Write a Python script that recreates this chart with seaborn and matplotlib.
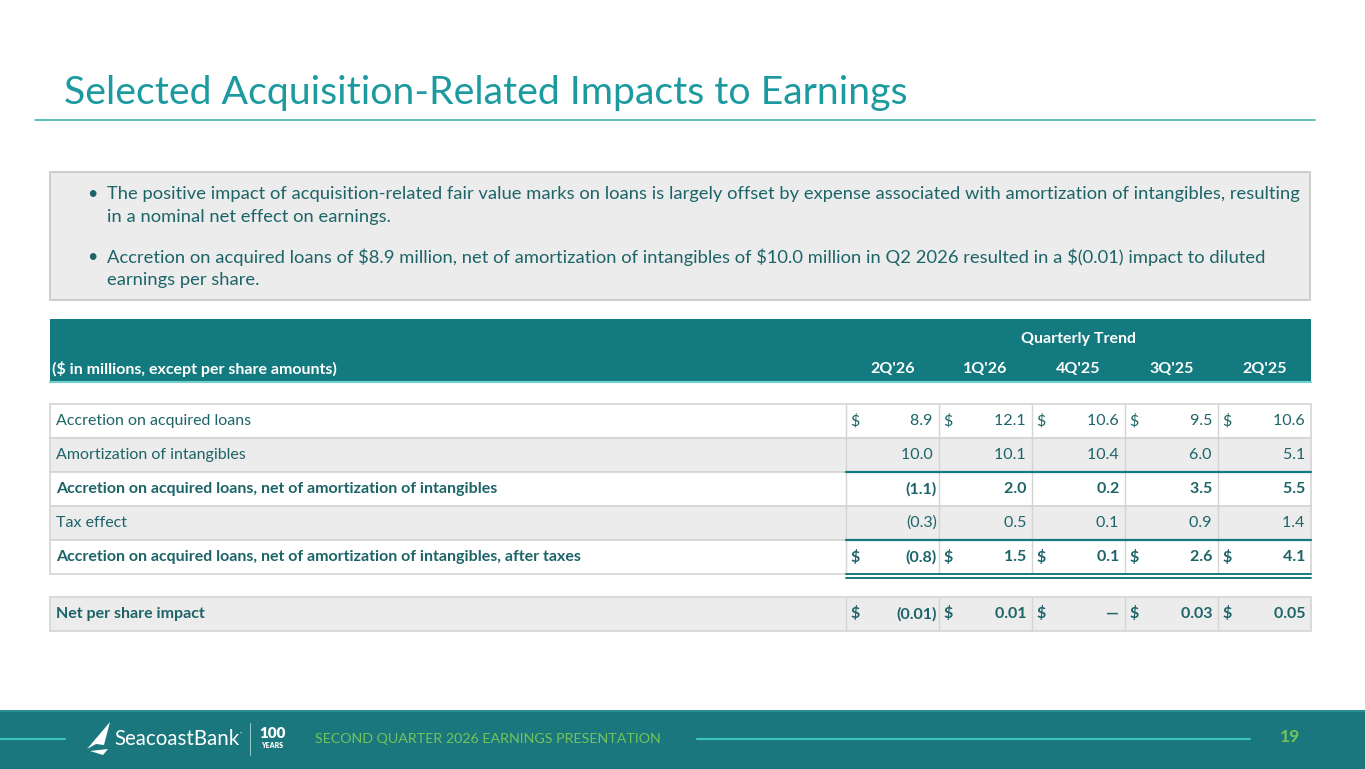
import numpy as np
import pandas as pd
import seaborn as sns
import matplotlib.pyplot as plt
from matplotlib.patches import Rectangle, Polygon

# Data
quarters = ["2Q'26", "1Q'26", "4Q'25", "3Q'25", "2Q'25"]
row_labels = [
    "Accretion on acquired loans",
    "Amortization of intangibles",
    "Accretion on acquired loans, net of amortization of intangibles",
    "Tax effect",
    "Accretion on acquired loans, net of amortization of intangibles, after taxes",
    "Net per share impact",
]
accretion = [8.9, 12.1, 10.6, 9.5, 10.6]
amortization = [10.0, 10.1, 10.4, 6.0, 5.1]
net_accretion = [-1.1, 2.0, 0.2, 3.5, 5.5]
tax_effect = [-0.3, 0.5, 0.1, 0.9, 1.4]
after_tax = [-0.8, 1.5, 0.1, 2.6, 4.1]
per_share = [-0.01, 0.01, 0.0, 0.03, 0.05]
row_values = [accretion, amortization, net_accretion, tax_effect, after_tax, per_share]
row_bold = [False, False, True, False, True, True]
row_dollar = [True, False, False, False, True, True]
row_decimals = [1, 1, 1, 1, 1, 2]

bullets = [
    ["The positive impact of acquisition-related fair value marks on loans is largely offset by expense associated with amortization of intangibles, resulting",
     "in a nominal net effect on earnings."],
    ["Accretion on acquired loans of $8.9 million, net of amortization of intangibles of $10.0 million in Q2 2026 resulted in a $(0.01) impact to diluted",
     "earnings per share."],
]

TEAL = "#137a80"
TITLE = "#1b9aa0"
TXT = "#1c6468"
GRAY = "#ececec"
LINE = "#d4d4d4"
GREEN = "#74c35a"
FS = 11.5

sns.set_theme(style="white")
plt.rcParams['font.family'] = ['Lato', 'DejaVu Sans']

fig = plt.figure(figsize=(13.65, 7.69), dpi=100)
ax = fig.add_axes([0, 0, 1, 1])
ax.set_xlim(0, 1365)
ax.set_ylim(769, 0)
ax.axis("off")

# title
ax.text(64, 104, "Selected Acquisition-Related Impacts to Earnings", fontsize=28.3,
        color=TITLE, va="baseline", ha="left")
ax.plot([35, 1315], [120, 120], color="#45b5b5", lw=1.2)

# bullet box
ax.add_patch(Rectangle((50, 172), 1260, 128, facecolor=GRAY, edgecolor="#c6c6c6", lw=1.2))
by = [194, 257]
for y0, lines in zip(by, bullets):
    ax.text(92, y0, "•", fontsize=13, color=TXT, va="center", ha="center")
    for i, ln in enumerate(lines):
        ax.text(107, y0 + i * 23, ln, fontsize=13.2, color=TXT, va="center", ha="left")

# table header
x0, x1 = 50, 1311
col_edges = np.linspace(846, 1311, len(quarters) + 1)
ax.add_patch(Rectangle((x0, 319), x1 - x0, 62, facecolor=TEAL, edgecolor="none"))
ax.plot([x0, x1], [382, 382], color="#6fcfcf", lw=1.5)
ax.text((col_edges[0] + x1) / 2, 339, "Quarterly Trend", fontsize=FS, fontweight="bold",
        color="white", va="center", ha="center")
ax.text(52, 369, "($ in millions, except per share amounts)", fontsize=FS, fontweight="bold",
        color="white", va="center", ha="left")
for i, q in enumerate(quarters):
    ax.text((col_edges[i] + col_edges[i + 1]) / 2, 369, q, fontsize=FS, fontweight="bold",
            color="white", va="center", ha="center")

# rows
row_top = [404, 438, 472, 506, 540, 597]
rh = 34
for r, (lab, vals) in enumerate(zip(row_labels, row_values)):
    top = row_top[r]
    fc = GRAY if r in (1, 3, 5) else "white"
    ax.add_patch(Rectangle((x0, top), x1 - x0, rh, facecolor=fc, edgecolor=LINE, lw=1.2))
    for e in col_edges[:-1]:
        ax.plot([e, e], [top, top + rh], color=LINE, lw=1)
    fw = "bold" if row_bold[r] else "normal"
    yc = top + rh / 2
    ax.text(56, yc, lab, fontsize=FS, fontweight=fw, color=TXT, va="center", ha="left")
    for i, v in enumerate(vals):
        d = row_decimals[r]
        if v == 0 and d == 2:
            s = "\u2014"
        elif v < 0:
            s = f"({abs(v):.{d}f})"
        else:
            s = f"{v:.{d}f}"
        if not s.endswith(")"):
            s = s + " "
        ax.text(col_edges[i + 1] - 2, yc, s, fontsize=FS, fontweight=fw, color=TXT,
                va="center", ha="right")
        if row_dollar[r]:
            ax.text(col_edges[i] + 4, yc, "$", fontsize=FS, fontweight=fw, color=TXT,
                    va="center", ha="left")

# subtotal rules
ax.plot([col_edges[0], x1], [472, 472], color=TEAL, lw=1.6)
ax.plot([col_edges[0], x1], [540, 540], color=TEAL, lw=1.6)
ax.plot([col_edges[0], x1], [574, 574], color=TEAL, lw=1.4)
ax.plot([col_edges[0], x1], [577.5, 577.5], color=TEAL, lw=1.4)

# footer
ax.add_patch(Rectangle((0, 710), 1365, 59, facecolor="#1a777d", edgecolor="none"))
ax.add_patch(Rectangle((0, 710), 1365, 2, facecolor="#2b8f93", edgecolor="none"))
ax.plot([0, 65], [739, 739], color="#3cc4c4", lw=1.5)
ax.plot([697, 1250], [739, 739], color="#3cc4c4", lw=1.5)
ax.add_patch(Polygon([[87, 749], [110, 722], [104, 745], [96, 744]], closed=True,
                     facecolor="white", edgecolor="none"))
ax.add_patch(Polygon([[90, 751], [108, 749], [103, 755]], closed=True,
                     facecolor="white", edgecolor="none"))
ax.text(114, 739, "SeacoastBank", fontsize=14.8, color="white", va="center", ha="left")
ax.text(240, 733, "\u00b7", fontsize=6, color="white", va="center", ha="left")
ax.plot([250, 250], [723, 755], color="#8fc6c6", lw=0.8)
ax.text(272, 733, "100", fontsize=11, fontweight="heavy", color="white", va="center", ha="center")
ax.text(272, 746, "YEARS", fontsize=5, fontweight="heavy", color="white", va="center", ha="center")
ax.text(315, 739, "SECOND QUARTER 2026 EARNINGS PRESENTATION", fontsize=10.3, color=GREEN,
        va="center", ha="left")
ax.text(1290, 737, "19", fontsize=12.5, fontweight="bold", color=GREEN, va="center", ha="center")

fig.savefig("out.png", dpi=100)
